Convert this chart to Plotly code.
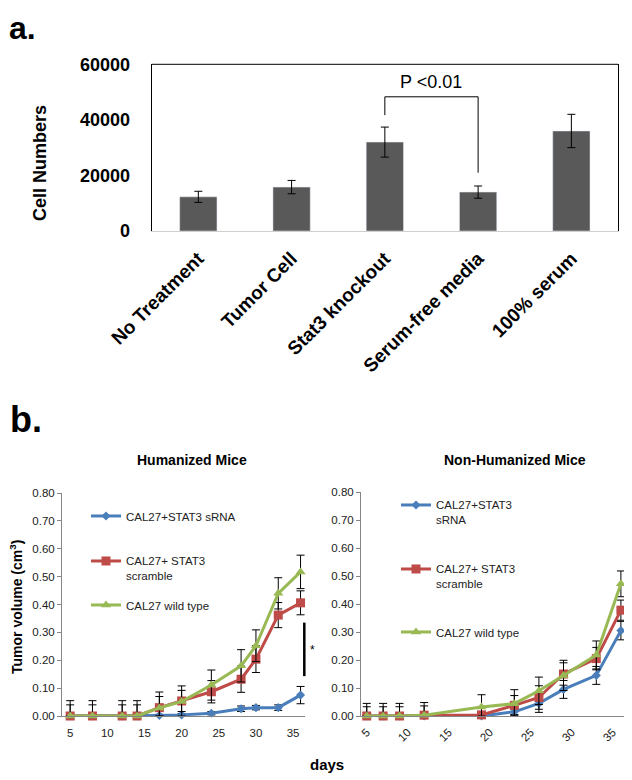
import plotly.graph_objects as go

# ---- panel a: cell numbers ----
groups = ["No Treatment", "Tumor Cell", "Stat3 knockout", "Serum-free media", "100% serum"]
cell_counts = [12300, 15800, 32000, 14000, 36000]
cell_err = [2000, 2400, 5400, 2200, 6000]

# ---- panel b: tumor volume ----
days_hum = [5, 8, 12, 14, 17, 20, 24, 28, 30, 33, 36]
hum_srna = [0, 0, 0, 0, 0.002, 0.004, 0.010, 0.026, 0.030, 0.030, 0.075]
hum_srna_err = [0.005, 0.005, 0.005, 0.005, 0.004, 0.005, 0.006, 0.010, 0.008, 0.010, 0.031]
hum_scr = [0, 0, 0, 0, 0.030, 0.054, 0.087, 0.132, 0.204, 0.362, 0.406]
hum_scr_err = [0.040, 0.040, 0.040, 0.040, 0.040, 0.038, 0.040, 0.047, 0.048, 0.045, 0.043]
hum_wt = [0, 0, 0, 0, 0.029, 0.052, 0.111, 0.180, 0.252, 0.440, 0.517]
hum_wt_err = [0.055, 0.055, 0.055, 0.055, 0.057, 0.056, 0.054, 0.058, 0.057, 0.056, 0.060]

days_non = [5, 7, 9, 12, 19, 23, 26, 29, 33, 36]
non_srna = [0, 0, 0, 0, 0, 0.015, 0.045, 0.095, 0.145, 0.305]
non_srna_err = [0.005, 0.005, 0.005, 0.005, 0.005, 0.010, 0.032, 0.032, 0.032, 0.033]
non_scr = [0, 0, 0, 0.003, 0.004, 0.038, 0.066, 0.150, 0.205, 0.378]
non_scr_err = [0.033, 0.033, 0.033, 0.033, 0.030, 0.035, 0.042, 0.040, 0.040, 0.036]
non_wt = [0, 0, 0, 0.003, 0.032, 0.044, 0.090, 0.145, 0.218, 0.472]
non_wt_err = [0.045, 0.045, 0.045, 0.045, 0.044, 0.050, 0.049, 0.054, 0.050, 0.046]

day_ticks = [5, 10, 15, 20, 25, 30, 35]

# page body has an 8px margin, so the figure is 8px smaller and positions are shifted
OFF = 8
W, H = 632 - OFF, 780 - OFF
FONT = "Liberation Sans, Arial, sans-serif"
BLUE, RED, GREEN = "#4A7EBB", "#BE4B48", "#98B954"
GREY = "#868686"


def px(x):
    return (x - OFF) / W


def py(y):
    return 1 - (y - OFF) / H


fig = go.Figure()

fig.add_trace(go.Bar(
    x=groups, y=cell_counts, marker_color="#595959", width=0.4,
    error_y=dict(type="data", array=cell_err, color="black", thickness=1, width=4),
    showlegend=False, xaxis="x", yaxis="y",
))


def add_series(x, y, err, name, color, symbol, size, axis, legend):
    lower = [min(e, v) for e, v in zip(err, y)]
    fig.add_trace(go.Scatter(
        x=x, y=y, name=name, mode="lines+markers",
        line=dict(color=color, width=3),
        marker=dict(color=color, symbol=symbol, size=size),
        error_y=dict(type="data", array=err, arrayminus=lower, color="black",
                     thickness=1, width=4),
        cliponaxis=False, xaxis="x" + axis, yaxis="y" + axis, legend=legend,
    ))


add_series(days_hum, hum_srna, hum_srna_err, "CAL27+STAT3 sRNA", BLUE, "diamond", 7, "2", "legend")
add_series(days_hum, hum_scr, hum_scr_err, "CAL27+ STAT3<br>scramble", RED, "square", 9, "2", "legend2")
add_series(days_hum, hum_wt, hum_wt_err, "CAL27 wild type", GREEN, "triangle-up", 9, "2", "legend3")
add_series(days_non, non_srna, non_srna_err, "CAL27+STAT3<br>sRNA", BLUE, "diamond", 7, "3", "legend4")
add_series(days_non, non_scr, non_scr_err, "CAL27+ STAT3<br>scramble", RED, "square", 9, "3", "legend5")
add_series(days_non, non_wt, non_wt_err, "CAL27 wild type", GREEN, "triangle-up", 9, "3", "legend6")

leg_font = dict(family=FONT, size=11.5, color="#222")


def legend_at(x, y):
    return dict(x=px(x), y=py(y), xanchor="left", yanchor="top", font=leg_font,
                bgcolor="rgba(0,0,0,0)", valign="top", itemwidth=30)


small_axis = dict(showline=True, linecolor=GREY, linewidth=1, showgrid=False,
                  zeroline=False, automargin=False)

fig.update_layout(
    width=W, height=H, margin=dict(l=0, r=0, t=0, b=0, autoexpand=False),
    paper_bgcolor="white", plot_bgcolor="white",
    font=dict(family=FONT, color="black"),
    xaxis=dict(domain=[px(151.7), px(618)], showline=True, linecolor="#cfcfcf",
               tickangle=-45, ticks="", ticklabelstandoff=8, automargin=False,
               tickfont=dict(family=FONT, size=19, weight="bold")),
    yaxis=dict(domain=[py(231), py(64.3)], range=[0, 60000], dtick=20000, tickformat="d",
               showline=True, linecolor="black", mirror=True, showgrid=False, zeroline=False,
               ticks="", ticklabelstandoff=17, automargin=False,
               tickfont=dict(family=FONT, size=18, weight="bold")),
    xaxis2=dict(domain=[px(62), px(305)], range=[3.9, 36.6], tickvals=day_ticks,
                ticks="", ticklabelstandoff=6, anchor="y2",
                tickfont=dict(family=FONT, size=11.5, color="#222"), **small_axis),
    yaxis2=dict(domain=[py(716), py(493)], range=[0, 0.8], dtick=0.1, tickformat=".2f",
                ticks="outside", ticklen=4, tickcolor=GREY, anchor="x2",
                tickfont=dict(family=FONT, size=11.5, color="#222"), **small_axis),
    xaxis3=dict(domain=[px(361), px(625)], range=[4.3, 36.5], tickvals=day_ticks,
                ticks="", tickangle=-45, ticklabelstandoff=4, anchor="y3",
                tickfont=dict(family=FONT, size=11.5, color="#222"), **small_axis),
    yaxis3=dict(domain=[py(716), py(492)], range=[0, 0.8], dtick=0.1, tickformat=".2f",
                ticks="outside", ticklen=4, tickcolor=GREY, anchor="x3",
                tickfont=dict(family=FONT, size=11.5, color="#222"), **small_axis),
    legend=legend_at(86, 502),
    legend2=legend_at(86, 547),
    legend3=legend_at(86, 591),
    legend4=legend_at(396, 491),
    legend5=legend_at(396, 555),
    legend6=legend_at(396, 618),
)

# box top edge of panel a, significance bracket, significance bar in panel b
fig.add_shape(type="line", xref="x domain", yref="y domain", x0=0, x1=1, y0=1, y1=1,
              line=dict(color="black", width=1))
bracket = dict(color="black", width=1)
fig.add_shape(type="line", xref="x", yref="y", x0=2, x1=2, y0=41700, y1=48300, line=bracket)
fig.add_shape(type="line", xref="x", yref="y", x0=2, x1=3, y0=48300, y1=48300, line=bracket)
fig.add_shape(type="line", xref="x", yref="y", x0=3, x1=3, y0=48300, y1=21000, line=bracket)
fig.add_shape(type="line", xref="paper", yref="y2", x0=px(304.3), x1=px(304.3),
              y0=0.143, y1=0.335, line=dict(color="black", width=2.5))

annos = [
    dict(text="a.", x=px(7), y=1, size=32, bold=True, yanchor="top"),
    dict(text="b.", x=px(8), y=py(419), size=36, bold=True),
    dict(text="P <0.01", x=2.5, y=53700, xref="x", yref="y", size=18, xanchor="center"),
    dict(text="Cell Numbers", x=px(40), y=py(163), size=18, bold=True, angle=-90, xanchor="center"),
    dict(text="Humanized Mice", x=px(192), y=py(460), size=14, bold=True, xanchor="center"),
    dict(text="Non-Humanized Mice", x=px(515), y=py(460), size=14, bold=True, xanchor="center"),
    dict(text="Tumor volume (cm<sup>3</sup>)", x=px(16), y=py(607), size=14, bold=True,
         angle=-90, xanchor="center"),
    dict(text="days", x=px(327), y=py(764), size=15, bold=True, xanchor="center"),
    dict(text="*", x=px(312), y=py(650), size=12, xanchor="center"),
]
for a in annos:
    fig.add_annotation(
        text=a["text"], x=a["x"], y=a["y"], xref=a.get("xref", "paper"), yref=a.get("yref", "paper"),
        showarrow=False, xanchor=a.get("xanchor", "left"), yanchor=a.get("yanchor", "middle"),
        textangle=a.get("angle", 0),
        font=dict(family=FONT, size=a["size"], color="black",
                  weight="bold" if a.get("bold") else "normal"),
    )

fig.write_html("out.html")
